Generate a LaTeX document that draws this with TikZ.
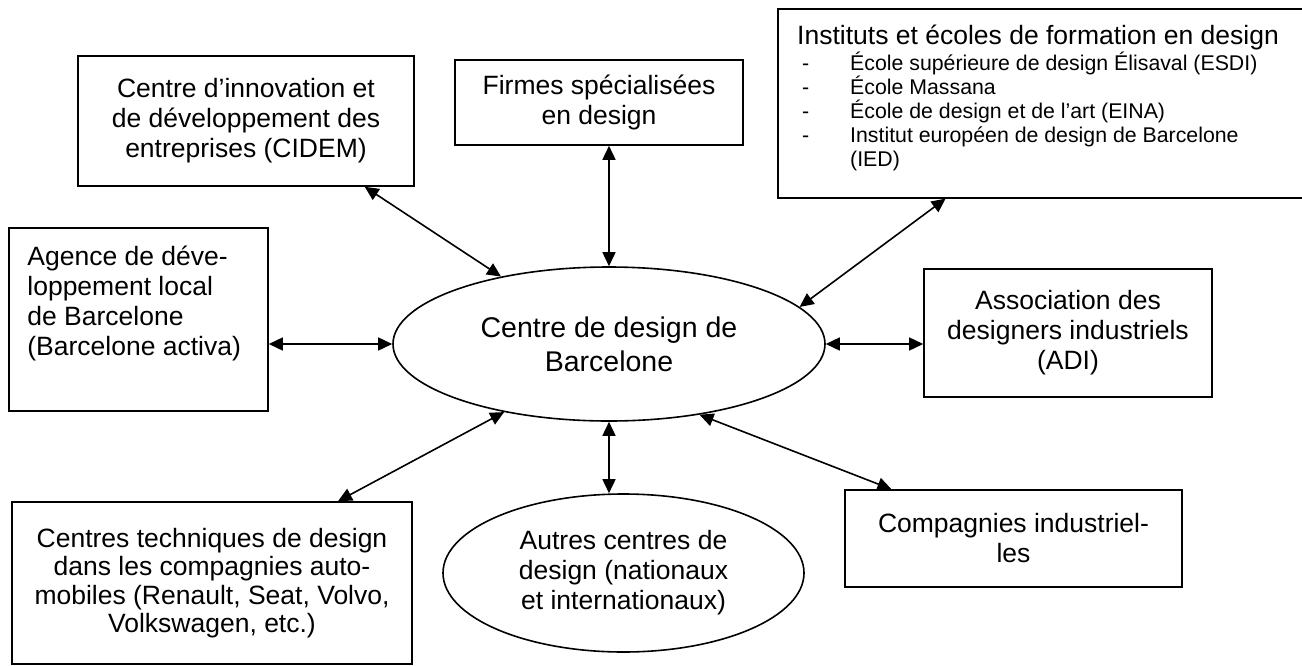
\documentclass[tikz,border=0pt]{standalone}
\usepackage{fontspec}
\setmainfont{Liberation Sans}
\usetikzlibrary{positioning,arrows.meta,shapes.geometric}

\newcommand{\boxfont}{\fontsize{26.5pt}{30pt}\selectfont}
\newcommand{\hubfont}{\fontsize{28.5pt}{34pt}\selectfont}
\newcommand{\listfont}{\fontsize{21.3pt}{24pt}\selectfont}
\newcommand{\dashitem}{\makebox[48pt][l]{-}}

\begin{document}
\begin{tikzpicture}[
    x=1pt, y=-1pt,
    box/.style={rectangle, draw, line width=1.6pt, inner sep=0pt, align=center, font=\boxfont},
    hub/.style={ellipse, draw, line width=1.6pt, inner sep=0pt, align=center, font=\boxfont},
    link/.style={line width=1.6pt, {Triangle[length=14pt,width=13pt]}-{Triangle[length=14pt,width=13pt]}},
    plain/.style={inner sep=0pt, align=left}
]
\useasboundingbox (0,0) rectangle (1302,665);

% Central ellipse
\node[hub, minimum width=432pt, minimum height=154pt, font=\hubfont] (centre) at (609,344) {Centre de design de\\Barcelone};

% Boxes round it
\node[box, minimum width=336pt, minimum height=130pt] (cidem) at (246,121) {Centre d’innovation et\\de développement des\\entreprises (CIDEM)};
\node[box, minimum width=288pt, minimum height=85pt] (firmes) at (599,102.5) {Firmes spécialisées\\en design};
\node[box, minimum width=540pt, minimum height=189pt, anchor=north west] (instituts) at (777,8) {};
\node[box, minimum width=259pt, minimum height=183pt] (agence) at (138.5,319.5) {};
\node[box, minimum width=288pt, minimum height=128pt] (adi) at (1068,333) {Association des\\designers industriels\\(ADI)};
\node[box, minimum width=400pt, minimum height=162pt, font=\fontsize{26.5pt}{28.5pt}\selectfont] (centres) at (212,583) {Centres techniques de design\\dans les compagnies auto-\\mobiles (Renault, Seat, Volvo,\\Volkswagen, etc.)};
\node[hub, minimum width=361pt, minimum height=158pt] (autres) at (623.5,573) {Autres centres de\\design (nationaux\\et internationaux)};
\node[box, minimum width=337pt, minimum height=97pt] (compagnies) at (1013.5,538.5) {Compagnies industriel-\\les};

% Left aligned texts
\node[plain, font=\boxfont, below right=19pt and 19pt of agence.north west] (agenceText) {Agence de déve-\\loppement local\\de Barcelone\\(Barcelone activa)};
\node[plain, font=\boxfont, below right=17pt and 20pt of instituts.north west] (instTitle) {Instituts et écoles de formation en design};
\node[plain, font=\listfont, below right=44pt and 25pt of instituts.north west] (instList) {\dashitem École supérieure de design Élisaval (ESDI)\\
\dashitem École Massana\\
\dashitem École de design et de l’art (EINA)\\
\dashitem Institut européen de design de Barcelone\\
\hspace*{48pt}(IED)};

% Links to the centre
\draw[link] (cidem.331) -- (centre.148);
\draw[link] (centre.north) -- (centre.north |- firmes.south);
\draw[link] (instituts.223) -- (centre.11);
\draw[link] (agence.east |- centre.west) -- (centre.west);
\draw[link] (centre.east) -- (centre.east -| adi.west);
\draw[link] (centres.33) -- (centre.213);
\draw[link] (centre.south) -- (centre.south |- autres.north);
\draw[link] (centre.322) -- (compagnies.158);

\end{tikzpicture}
\end{document}
